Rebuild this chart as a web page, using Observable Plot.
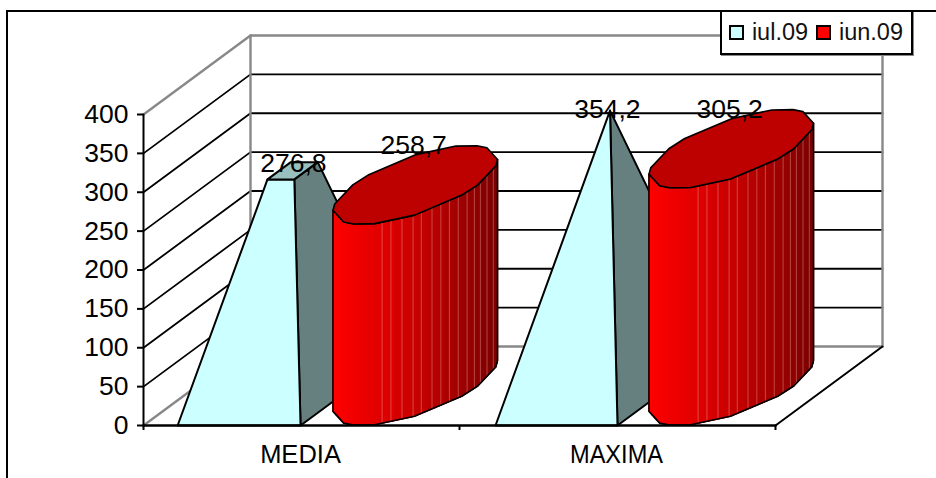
<!DOCTYPE html>
<html>
<head>
<meta charset="utf-8">
<script src="https://cdn.jsdelivr.net/npm/d3@7"></script>
<script src="https://cdn.jsdelivr.net/npm/@observablehq/plot@0.6"></script>
<style>
  html, body { margin: 0; padding: 0; background: #fff; overflow: hidden; }
  #stage { position: relative; width: 936px; height: 478px; overflow: hidden; font-family: "Liberation Sans", Arial, sans-serif; }
  #stage svg { display: block; position: absolute; left: 0; top: 0; }
  #frame { position: absolute; left: 6px; top: 10px; width: 940px; height: 480px; border: 2px solid #000; box-sizing: border-box; }
  #legend { position: absolute; left: 720px; top: 11px; width: 193px; height: 44px; box-sizing: border-box; background: #fff;
    border: 2px solid #000; border-top-width: 1px; box-shadow: 1px 1px 0 #888; display: flex; align-items: center; padding-left: 7px;
    font-size: 23.5px; color: #111; }
  #legend i { display: inline-block; width: 15px; height: 15px; box-sizing: border-box; border: 2px solid #000; margin-right: 8px; }
  #legend span { margin-right: 8px; }
</style>
</head>
<body>
<div id="stage"><div id="frame"></div></div>
<script>
// Values of the two monthly series
const categories = ["MEDIA", "MAXIMA"];
const seriesNames = ["iul.09", "iun.09"];
const iul09 = [276.8, 354.2];
const iun09 = [258.7, 305.2];
const valueTicks = [0, 50, 100, 150, 200, 250, 300, 350, 400];

// Oblique 3D projection: going back through the depth shifts right and up
const depthCat = 0.3386;
const depthVal = 101.6;
const pt = (c, d, v) => ({x: c + d * depthCat, y: v + d * depthVal});

const pyramidColors = {front: "#ccffff", side: "#668080", top: "#9abfbf"};
const lidColor = "#bd0000";
const ink = "#000";
const lineW = 2;

const closedPoly = (points, o) =>
  Plot.line([...points, points[0]], {x: "x", y: "y", strokeLinejoin: "round", strokeWidth: lineW, stroke: ink, ...o});
const path = (points, o) =>
  Plot.line(points, {x: "x", y: "y", strokeWidth: lineW, stroke: ink, ...o});

// Walls and floor
const walls = [];
for (const v of valueTicks) {
  const edge = v === 0 || v === 400;
  const color = edge ? "#888" : "#000";
  const w = edge ? 2.4 : 1.8;
  walls.push(path([pt(0, 0, v), pt(0, 1, v), pt(2, 1, v)], {stroke: color, strokeWidth: w}));
}
walls.push(path([pt(0, 1, 0), pt(0, 1, 400)], {stroke: "#888", strokeWidth: 2.4}));
walls.push(path([pt(2, 1, 0), pt(2, 1, 400)], {stroke: "#888", strokeWidth: 2.4}));
walls.push(path([pt(2, 0, 0), pt(2, 1, 0)], {}));

// Truncated pyramid: its apex sits at the tallest value of the series
function pyramid(c0, c1, value, apexValue) {
  const t = value / apexValue;
  const cm = (c0 + c1) / 2;
  const cut = (c, d) => {
    const base = pt(c, d, 0);
    const apex = pt(cm, 0.5, apexValue);
    return {x: base.x + t * (apex.x - base.x), y: base.y + t * (apex.y - base.y)};
  };
  const marks = [
    closedPoly([pt(c1, 0, 0), pt(c1, 1, 0), cut(c1, 1), cut(c1, 0)], {fill: pyramidColors.side}),
    closedPoly([pt(c0, 0, 0), pt(c1, 0, 0), cut(c1, 0), cut(c0, 0)], {fill: pyramidColors.front})
  ];
  if (t < 1) marks.push(closedPoly([cut(c0, 0), cut(c1, 0), cut(c1, 1), cut(c0, 1)], {fill: pyramidColors.top}));
  return marks;
}

// The cylinder's rim is a coarse polygon, as the drawing program facets it
const frontArc = [-140, -110, -98, -79, -50, -15, 0, 29, 40];
const backArc = [70, 82, 101, 130, 165, 180, 209];
const seamOffsets = [-0.105, -0.077, -0.042, -0.007, 0.019, 0.053, 0.081, 0.108, 0.136, 0.164, 0.187, 0.206, 0.227, 0.247];
const shade = d3.interpolateRgbBasis(["#ff0000", "#dd0000", "#b40000", "#7a0000"]);

function cylinder(c0, c1, value) {
  const cm = (c0 + c1) / 2;
  const r = (c1 - c0) / 2;
  const rim = (a, v) => {
    const th = a * Math.PI / 180;
    return pt(cm + r * Math.cos(th), 0.5 + 0.5 * Math.sin(th), v);
  };
  const bottom = frontArc.map(a => rim(a, 0));
  const tops = frontArc.map(a => rim(a, value));
  const body = [...bottom, ...tops.slice().reverse()];
  const xMin = bottom[0].x, xMax = bottom[bottom.length - 1].x;

  // Narrow vertical strips carry the left-to-right shading
  const strips = [];
  let id = 0;
  for (let i = 0; i + 1 < bottom.length; i++) {
    const a = bottom[i], b = bottom[i + 1];
    const n = Math.max(1, Math.ceil((b.x - a.x) / 0.005));
    for (let k = 0; k < n; k++) {
      const p = {x: a.x + (b.x - a.x) * k / n, y: a.y + (b.y - a.y) * k / n};
      const q = {x: a.x + (b.x - a.x) * (k + 1) / n, y: a.y + (b.y - a.y) * (k + 1) / n};
      const color = shade(((p.x + q.x) / 2 - xMin) / (xMax - xMin));
      id++;
      for (const s of [p, q, {x: q.x, y: q.y + value}, {x: p.x, y: p.y + value}, p]) strips.push({...s, id, color});
    }
  }

  // Pale seams between the facets
  const xMid = cm + depthCat / 2;
  const seams = [];
  seamOffsets.forEach((off, j) => {
    const x = xMid + off;
    const i = bottom.findIndex((p, n) => n + 1 < bottom.length && p.x <= x && x <= bottom[n + 1].x);
    if (i < 0) return;
    const a = bottom[i], b = bottom[i + 1];
    const y = a.y + (b.y - a.y) * (x - a.x) / (b.x - a.x);
    seams.push({x, y, id: j}, {x, y: y + value, id: j});
  });

  return [
    closedPoly(body, {fill: "#c00000", stroke: "#c00000", strokeWidth: 1}),
    Plot.line(strips, {x: "x", y: "y", z: "id", fill: "color", stroke: "color", strokeWidth: 1.2}),
    Plot.line(seams, {x: "x", y: "y", z: "id", stroke: "#f0b0b0", strokeOpacity: 0.45, strokeWidth: 0.9}),
    closedPoly(body, {strokeWidth: 1.6}),
    closedPoly([...frontArc, ...backArc].map(a => rim(a, value)), {fill: lidColor, strokeWidth: 1.6})
  ];
}

const apexValue = d3.max(iul09);
const solids = [];
const labels = [];
const comma = v => String(v).replace(".", ",");
const labelSize = 26.5;
categories.forEach((name, i) => {
  solids.push(...pyramid(i + 0.108 + 0.006 * i, i + 0.497 + 0.003 * i, iul09[i], apexValue));
  solids.push(...cylinder(i + 0.493, i + 0.8885, iun09[i]));
  const a = pt(i + 0.305, 0.5, iul09[i]);
  const b = pt(i + 0.695, 0.5, iun09[i]);
  labels.push(Plot.text([a], {x: "x", y: "y", text: () => comma(iul09[i]), fontSize: labelSize, dy: i ? -1 : -7, dx: i ? -2 : 0, fill: "#000"}));
  labels.push(Plot.text([b], {x: "x", y: "y", text: () => comma(iun09[i]), fontSize: labelSize, dy: -39, dx: -3, fill: "#000"}));
});

const chart = Plot.plot({
  width: 936,
  height: 478,
  marginLeft: 143,
  marginRight: 161,
  marginTop: 114,
  marginBottom: 53,
  style: {fontFamily: '"Liberation Sans", Arial, sans-serif', background: "transparent", overflow: "visible"},
  x: {domain: [0, 2]},
  y: {domain: [0, 400]},
  color: {type: "identity"},
  marks: [
    ...walls,
    ...solids,
    path([pt(0, 0, 0), pt(0, 0, 400)], {strokeWidth: 2}),
    path([pt(0, 0, 0), pt(2, 0, 0)], {strokeWidth: 2.4}),
    Plot.axisY(valueTicks, {ticks: valueTicks, tickSize: 6, tickPadding: 9, fontSize: 26.5, label: null, anchor: "left", stroke: "#000", strokeWidth: 2, fill: "#000"}),
    Plot.axisX({ticks: [0, 1, 2], tickSize: 5, tickFormat: () => "", label: null, stroke: "#000", strokeWidth: 2}),
    Plot.text(categories, {x: (d, i) => i + 0.5, y: () => 0, text: d => d, dy: 29, dx: -1, fontSize: 25.5, fill: "#000"}),
    ...labels
  ]
});
const stage = document.getElementById("stage");
stage.insertBefore(chart, stage.firstChild);

// The longer category name is set a little tighter
for (const t of chart.querySelectorAll("text")) {
  if (t.textContent === categories[1]) {
    t.setAttribute("textLength", 93);
    t.setAttribute("lengthAdjust", "spacingAndGlyphs");
  }
}

// Legend sits on top of the chart's upper right corner
const legend = document.createElement("div");
legend.id = "legend";
[pyramidColors.front, "#ff0000"].forEach((color, i) => {
  const sw = document.createElement("i");
  sw.style.background = color;
  const label = document.createElement("span");
  label.textContent = seriesNames[i];
  legend.append(sw, label);
});
stage.append(legend);
</script>
</body>
</html>
